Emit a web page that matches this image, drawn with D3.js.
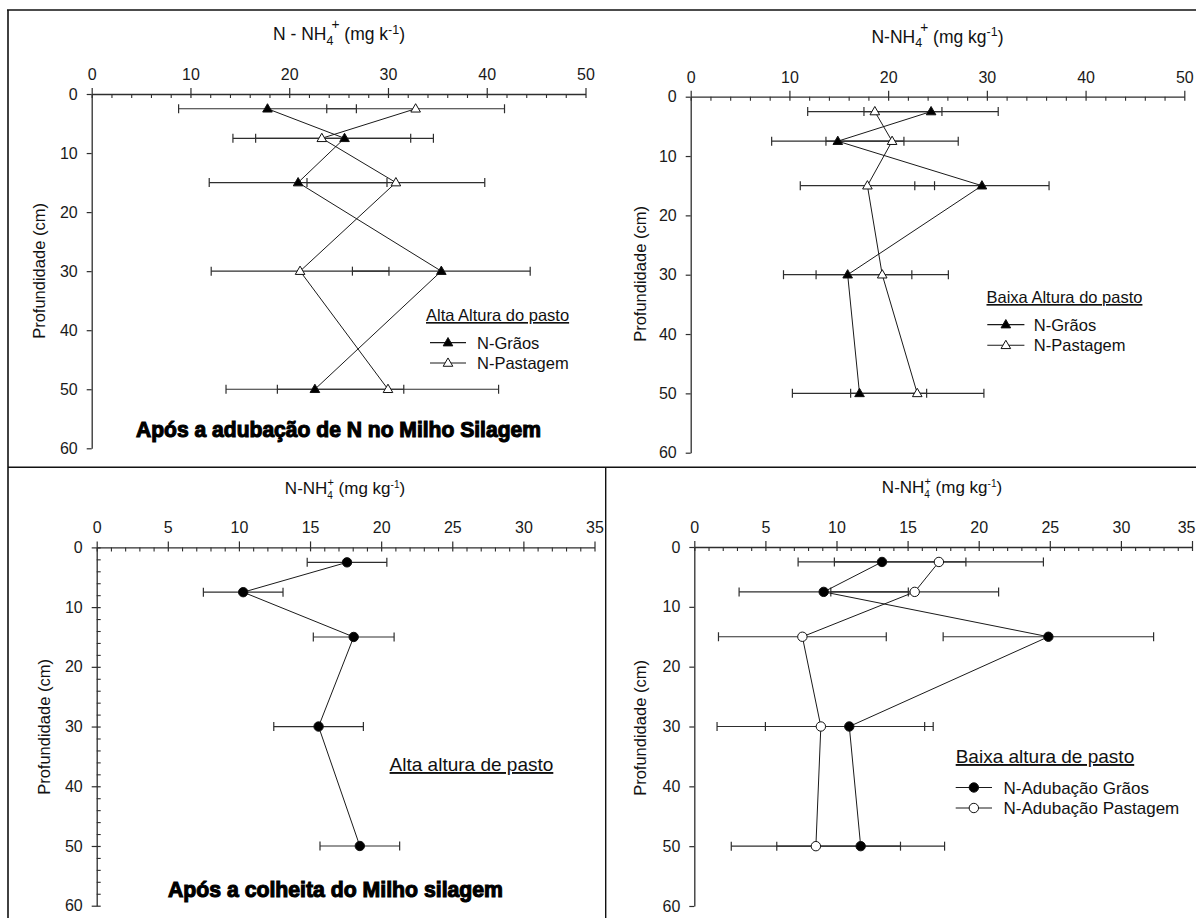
<!DOCTYPE html>
<html><head><meta charset="utf-8">
<script src="https://cdn.jsdelivr.net/npm/d3@7"></script>
<style>
body{margin:0;background:#fff}
svg{display:block}
text{font-family:"Liberation Sans",Arial,Helvetica,sans-serif;fill:#111}
</style>
</head><body>
<svg id="c" width="1196" height="918"></svg>
<script>
// ---------------- data ----------------
const depths = [2.5, 7.5, 15, 30, 50];

const p1Graos    = [17.8, 25.6, 20.9, 35.4, 22.6];
const p1GraosErr = [9.0, 9.0, 9.0, 9.0, 9.0];
const p1Past     = [32.8, 23.3, 30.8, 21.1, 30.0];
const p1PastErr  = [9.0, 9.0, 9.0, 9.0, 11.2];

const p2Graos    = [24.35, 14.9, 29.5, 15.9, 17.1];
const p2GraosErr = [6.8, 6.7, 6.8, 6.5, 6.8];
const p2Past     = [18.65, 20.4, 17.9, 19.4, 22.95];
const p2PastErr  = [6.8, 6.7, 6.8, 6.7, 6.75];

const p3Vals = [17.6, 10.3, 18.07, 15.6, 18.5];
const p3Err  = [2.8, 2.8, 2.84, 3.15, 2.8];

const p4Graos    = [13.2, 9.1, 24.9, 10.9, 11.7];
const p4GraosErr = [5.9, 5.95, 7.4, 5.9, 5.9];
const p4Past     = [17.2, 15.5, 7.6, 8.9, 8.55];
const p4PastErr  = [7.35, 5.9, 5.9, 7.3, 5.95];

const xTicks50 = [0, 10, 20, 30, 40, 50];
const xTicks35 = [0, 5, 10, 15, 20, 25, 30, 35];
const yTicks   = [0, 10, 20, 30, 40, 50, 60];

// ---------------- drawing ----------------
const svg = d3.select("#c");
const INK = "#1a1a1a", AX = "#2e2e2e";

// frame lines
const frame = [[7,10,1196,10,1.6],[8,10,8,918,1.6],[8,467.3,1196,467.3,1.4],[605.7,467.3,605.7,918,1.4]];
svg.selectAll("line.frame").data(frame).join("line").attr("class","frame")
  .attr("x1",d=>d[0]).attr("y1",d=>d[1]).attr("x2",d=>d[2]).attr("y2",d=>d[3])
  .attr("stroke","#111").attr("stroke-width",d=>d[4]);

function marker(g, kind, cx, cy) {
  if (kind[0] === "t") {
    g.append("path").attr("d", d3.symbol(d3.symbolTriangle, 40)())
      .attr("transform", `translate(${cx},${cy+0.5})`)
      .attr("fill", kind === "tF" ? "#000" : "#fff").attr("stroke", "#111").attr("stroke-width", 1);
  } else {
    g.append("circle").attr("cx", cx).attr("cy", cy).attr("r", 4.7)
      .attr("fill", kind === "cF" ? "#000" : "#fff").attr("stroke", "#111").attr("stroke-width", 1);
  }
}

function panel(cfg) {
  const x = d3.scaleLinear().domain([0, cfg.xmax]).range([cfg.x0, cfg.x1]);
  const y = d3.scaleLinear().domain([0, 60]).range([cfg.y0, cfg.y1]);
  const g = svg.append("g");

  // minor x ticks (pointing down)
  const minorX = d3.range(0, cfg.xmax + 0.001, cfg.minorStep).filter(v => !cfg.xticks.includes(v));
  g.append("g").attr("transform", `translate(0,${cfg.y0})`)
    .call(d3.axisTop(x).tickValues(minorX).tickSize(-4).tickFormat(""))
    .call(a => { a.select(".domain").remove(); a.attr("color", AX); a.selectAll("line").attr("stroke-width", 1.1); });

  // major x axis
  const ax = g.append("g").attr("transform", `translate(0,${cfg.y0})`)
    .call(d3.axisTop(x).tickValues(cfg.xticks).tickSizeInner(6).tickSizeOuter(0).tickPadding(8));
  ax.attr("color", AX).attr("font-family", null).attr("font-size", null);
  ax.select(".domain").attr("stroke-width", 1.3);
  ax.selectAll(".tick line").attr("y1", 4).attr("stroke-width", 1.2);
  ax.selectAll("text").attr("font-size", cfg.tickFs).style("fill", INK);
  if (cfg.clipLast) {
    ax.selectAll("text").filter(v => v === cfg.xmax).attr("text-anchor", "end").attr("x", 1195 - x(cfg.xmax));
  }

  // y minor ticks
  if (cfg.yMinor) {
    const minorY = d3.range(0, 60.001, 2).filter(v => !yTicks.includes(v));
    g.append("g").attr("transform", `translate(${cfg.x0},0)`)
      .call(d3.axisLeft(y).tickValues(minorY).tickSize(-4).tickFormat(""))
      .call(a => { a.select(".domain").remove(); a.attr("color", AX); a.selectAll("line").attr("stroke-width", 1.1); });
  }
  // y axis
  const ay = g.append("g").attr("transform", `translate(${cfg.x0},0)`)
    .call(d3.axisLeft(y).tickValues(yTicks).tickSizeInner(5).tickSizeOuter(0).tickPadding(9));
  ay.attr("color", AX).attr("font-family", null).attr("font-size", null);
  ay.select(".domain").attr("stroke-width", 1.3);
  ay.selectAll(".tick line").attr("stroke-width", 1.2);
  if (cfg.yMinor) ay.selectAll(".tick line").attr("x1", 4);
  ay.selectAll("text").attr("font-size", cfg.tickFs).style("fill", INK);

  // y axis title
  g.append("text").attr("transform", `translate(${cfg.yTitle[0]},${cfg.yTitle[1]}) rotate(-90)`)
    .attr("text-anchor", "middle").attr("dy", "0.32em").attr("font-size", 16.5)
    .text("Profundidade (cm)");

  // x axis title with sub/superscripts
  const t = g.append("text").attr("x", cfg.xTitle[0]).attr("y", cfg.xTitle[1])
    .attr("text-anchor", "middle").attr("font-size", cfg.titleFs);
  t.append("tspan").text(cfg.spaced ? "N - NH" : "N-NH");
  t.append("tspan").attr("font-size", cfg.subFs).attr("dy", 4.5).text("4");
  t.append("tspan").attr("font-size", cfg.subFs * 1.1).attr("dx", cfg.plusDx).attr("dy", -4.5 - cfg.plusUp).text("+");
  t.append("tspan").attr("dy", cfg.plusUp).text(cfg.unit);
  t.append("tspan").attr("font-size", cfg.subFs).attr("dy", -6.5).text("-1");
  t.append("tspan").attr("dy", 6.5).text(")");

  // series
  const ebG = g.append("g").attr("stroke", AX).attr("stroke-width", 1.2);
  cfg.series.forEach(se => {
    ebG.append("g").selectAll("line").data(se.vals).join("line")
      .attr("x1", (v, i) => x(v - se.errs[i])).attr("x2", (v, i) => x(v + se.errs[i]))
      .attr("y1", (v, i) => y(depths[i])).attr("y2", (v, i) => y(depths[i]));
    ebG.append("g").selectAll("line").data(se.vals).join("line")
      .attr("x1", (v, i) => x(v - se.errs[i])).attr("x2", (v, i) => x(v - se.errs[i]))
      .attr("y1", (v, i) => y(depths[i]) - 4.5).attr("y2", (v, i) => y(depths[i]) + 4.5);
    ebG.append("g").selectAll("line").data(se.vals).join("line")
      .attr("x1", (v, i) => x(v + se.errs[i])).attr("x2", (v, i) => x(v + se.errs[i]))
      .attr("y1", (v, i) => y(depths[i]) - 4.5).attr("y2", (v, i) => y(depths[i]) + 4.5);
  });
  const line = d3.line().x(v => x(v)).y((v, i) => y(depths[i]));
  cfg.series.forEach(se => {
    g.append("path").attr("d", line(se.vals)).attr("fill", "none").attr("stroke", INK).attr("stroke-width", 1);
  });
  cfg.series.forEach(se => {
    const mg = g.append("g");
    se.vals.forEach((v, i) => marker(mg, se.kind, x(v), y(depths[i])));
  });

  // legend
  const L = cfg.legend;
  g.append("text").attr("x", L.x).attr("y", L.hy).attr("font-size", L.hfs)
    .attr("text-decoration", "underline").text(L.header);
  (L.rows || []).forEach(r => {
    g.append("line").attr("x1", r.lx0).attr("x2", r.lx1).attr("y1", r.y).attr("y2", r.y)
      .attr("stroke", INK).attr("stroke-width", 1.1);
    marker(g, r.kind, (r.lx0 + r.lx1) / 2, r.y);
    g.append("text").attr("x", r.tx).attr("y", r.y).attr("dy", "0.36em").attr("font-size", L.efs).text(r.label);
  });

  // bold note
  if (cfg.note) {
    g.append("text").attr("x", cfg.note.x).attr("y", cfg.note.y).attr("text-anchor", "middle")
      .attr("font-size", 21.5).attr("font-weight", "bold").style("fill", "#000")
      .attr("stroke", "#000").attr("stroke-width", 1.1)
      .attr("textLength", cfg.note.w).attr("lengthAdjust", "spacingAndGlyphs")
      .text(cfg.note.text);
  }
}

panel({
  xmax: 50, x0: 91.7, x1: 585.5, y0: 94, y1: 448.3, xticks: xTicks50, minorStep: 2, yMinor: false,
  tickFs: 16, titleFs: 17.5, subFs: 12.5, plusDx: -2, plusUp: 11, spaced: true, unit: " (mg k",
  xTitle: [339, 40], yTitle: [39.5, 271],
  series: [
    {vals: p1Graos, errs: p1GraosErr, kind: "tF"},
    {vals: p1Past, errs: p1PastErr, kind: "tO"}
  ],
  legend: {x: 426, hy: 321, hfs: 16.5, header: "Alta Altura do pasto", efs: 16.5,
    rows: [
      {label: "N-Grãos", kind: "tF", y: 342.6, lx0: 430, lx1: 466, tx: 477},
      {label: "N-Pastagem", kind: "tO", y: 363, lx0: 430, lx1: 466, tx: 477}
    ]},
  note: {text: "Após a adubação de N no Milho Silagem", x: 338.5, y: 437, w: 405}
});

panel({
  xmax: 50, x0: 690.7, x1: 1184.3, y0: 96.7, y1: 452.7, xticks: xTicks50, minorStep: 2, yMinor: false,
  tickFs: 16, titleFs: 17.5, subFs: 12.5, plusDx: -2, plusUp: 11, spaced: false, unit: " (mg kg",
  xTitle: [937.5, 42.5], yTitle: [640.7, 274],
  series: [
    {vals: p2Graos, errs: p2GraosErr, kind: "tF"},
    {vals: p2Past, errs: p2PastErr, kind: "tO"}
  ],
  legend: {x: 986.5, hy: 303, hfs: 16.5, header: "Baixa Altura do pasto", efs: 16.5,
    rows: [
      {label: "N-Grãos", kind: "tF", y: 324.6, lx0: 987.3, lx1: 1024.4, tx: 1033.8},
      {label: "N-Pastagem", kind: "tO", y: 345.3, lx0: 987.3, lx1: 1024.4, tx: 1033.8}
    ]}
});

panel({
  xmax: 35, x0: 96.7, x1: 594.5, y0: 547.4, y1: 905.7, xticks: xTicks35, minorStep: 1, yMinor: true,
  tickFs: 16, titleFs: 17, subFs: 10, plusDx: -5.5, plusUp: 8.5, spaced: false, unit: " (mg kg",
  xTitle: [345, 494], yTitle: [44.3, 727],
  series: [
    {vals: p3Vals, errs: p3Err, kind: "cF"}
  ],
  legend: {x: 389.6, hy: 771, hfs: 19, header: "Alta altura de pasto", efs: 17, rows: []},
  note: {text: "Após a colheita do Milho silagem", x: 335.5, y: 897, w: 335}
});

panel({
  xmax: 35, x0: 694.3, x1: 1192, y0: 547, y1: 906, xticks: xTicks35, minorStep: 1, yMinor: false,
  tickFs: 16, titleFs: 17, subFs: 10, plusDx: -5.5, plusUp: 8.5, spaced: false, unit: " (mg kg",
  xTitle: [942, 493], yTitle: [641, 728], clipLast: true,
  series: [
    {vals: p4Graos, errs: p4GraosErr, kind: "cF"},
    {vals: p4Past, errs: p4PastErr, kind: "cO"}
  ],
  legend: {x: 955.7, hy: 763, hfs: 19, header: "Baixa altura de pasto", efs: 17,
    rows: [
      {label: "N-Adubação Grãos", kind: "cF", y: 787.5, lx0: 955.7, lx1: 992, tx: 1003.5},
      {label: "N-Adubação Pastagem", kind: "cO", y: 808, lx0: 955.7, lx1: 992, tx: 1003.5}
    ]}
});
</script>
</body></html>
